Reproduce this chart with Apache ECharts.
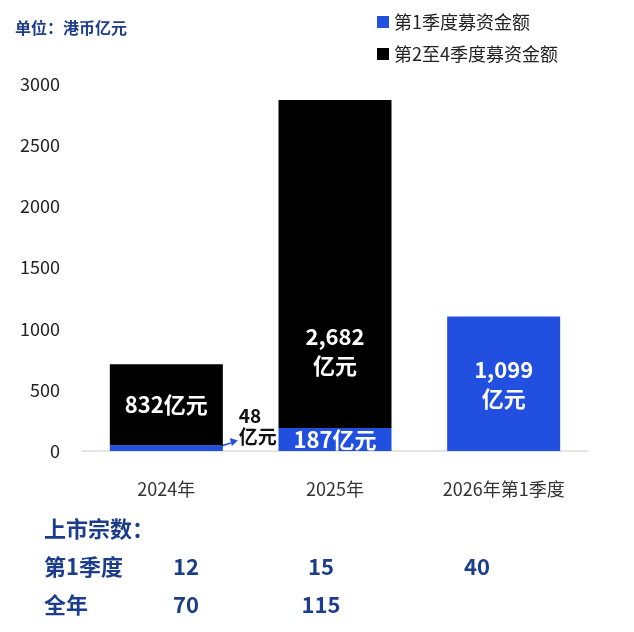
<!DOCTYPE html>
<html>
<head>
<meta charset="utf-8">
<script src="https://cdn.jsdelivr.net/npm/echarts@6/dist/echarts.min.js"></script>
<style>
  html, body { margin: 0; padding: 0; background: #fff; }
  #main { width: 634px; height: 632px; }
</style>
</head>
<body>
<div id="main"></div>
<script>
// 数据
var categories = ['2024年', '2025年', '2026年第1季度'];
var q1Values = [48, 187, 1099];          // 第1季度募资金额
var q24Values = [661, 2682, '-'];        // 第2至4季度募资金额（按图中柱高读取）
var q1Labels = ['48\n亿元', '187亿元', '1,099\n亿元'];
var q24Labels = ['832亿元', '2,682\n亿元', ''];
var yTicks = [0, 500, 1000, 1500, 2000, 2500, 3000];

// 上市宗数
var rowNames = ['第1季度', '全年'];
var q1Counts = ['12', '15', '40'];
var fullYearCounts = ['70', '115', ''];

var FONT = '"Noto Sans CJK SC", "Noto Sans", sans-serif';
var BLUE = '#2150e0';
var NAVY = '#1c3d8c';

window.onload = function () {
    var dom = document.getElementById('main');
    var myChart = echarts.init(dom);

    var option = {
        animation: false,
        textStyle: { fontFamily: FONT },
        title: {
            text: '单位：港币亿元',
            left: 10,
            top: 15,
            textStyle: { fontFamily: FONT, fontSize: 16, fontWeight: 'bold', color: NAVY }
        },
        legend: {
            orient: 'vertical',
            left: 372,
            top: 8,
            itemWidth: 12,
            itemHeight: 12,
            itemGap: 14,
            icon: 'rect',
            textStyle: { fontFamily: FONT, fontSize: 18, color: '#222' },
            data: ['第1季度募资金额', '第2至4季度募资金额']
        },
        grid: {
            left: 82,
            right: 46,
            top: 84,
            bottom: 181
        },
        xAxis: {
            type: 'category',
            data: categories,
            axisLine: { lineStyle: { color: '#dcdcdc', width: 1.5 } },
            axisTick: { show: false },
            axisLabel: { fontFamily: FONT, fontSize: 18, color: '#333', margin: 29 }
        },
        yAxis: {
            type: 'value',
            min: yTicks[0],
            max: yTicks[yTicks.length - 1],
            interval: 500,
            axisLine: { show: false },
            axisTick: { show: false },
            splitLine: { show: false },
            axisLabel: {
                fontFamily: FONT, fontSize: 18, color: '#222', margin: 22,
                formatter: function (v) { return String(v); }
            }
        },
        series: [
            {
                name: '第1季度募资金额',
                type: 'bar',
                stack: 'total',
                barWidth: 113,
                itemStyle: { color: BLUE },
                data: q1Values.map(function (v, i) {
                    var item = { value: v };
                    // 2024年的标签画在柱外（见下方 graphic）
                    if (i === 0) item.label = { show: false };
                    return item;
                }),
                label: {
                    show: true,
                    position: 'inside',
                    color: '#fff',
                    fontFamily: FONT,
                    fontSize: 22,
                    fontWeight: 'bold',
                    lineHeight: 29,
                    formatter: function (p) { return q1Labels[p.dataIndex]; }
                }
            },
            {
                name: '第2至4季度募资金额',
                type: 'bar',
                stack: 'total',
                barWidth: 113,
                itemStyle: { color: '#000' },
                data: q24Values.map(function (v, i) {
                    var item = { value: v };
                    if (i === 1) {
                        item.label = { position: 'insideBottom', distance: 48 };
                    }
                    return item;
                }),
                label: {
                    show: true,
                    position: 'inside',
                    color: '#fff',
                    fontFamily: FONT,
                    fontSize: 22,
                    fontWeight: 'bold',
                    lineHeight: 29,
                    formatter: function (p) { return q24Labels[p.dataIndex]; }
                }
            }
        ]
    };

    myChart.setOption(option, true);

    // 箭头：从2024年第1季度柱右侧指向“48亿元”
    var mid = myChart.convertToPixel({ seriesIndex: 0 }, [0, q1Values[0] / 2]);
    var rightEdge = mid[0] + 113 / 2;
    var sx = rightEdge - 10, sy = mid[1] + 0.5;
    var ex = rightEdge + 8, ey = mid[1] - 5;

    var graphics = [
        {
            type: 'line',
            shape: { x1: sx, y1: sy, x2: ex, y2: ey },
            style: { stroke: BLUE, lineWidth: 1.5 }
        },
        {
            type: 'polygon',
            shape: { points: [[ex + 7, ey - 2.5], [ex - 1, ey - 5], [ex + 1, ey + 3]] },
            style: { fill: BLUE }
        },
        {
            type: 'text',
            x: rightEdge + 16, y: mid[1] - 22,
            style: {
                text: q1Labels[0], fill: '#111', font: 'bold 19px ' + FONT,
                lineHeight: 21, textAlign: 'left', textVerticalAlign: 'middle'
            }
        },
        {
            type: 'text',
            left: 44, top: 518,
            style: { text: '上市宗数：', fill: NAVY, font: 'bold 22px ' + FONT }
        }
    ];

    var colX = [186, 321, 477];
    var rowY = [556, 594];
    [q1Counts, fullYearCounts].forEach(function (row, r) {
        graphics.push({
            type: 'text',
            left: 44, top: rowY[r],
            style: { text: rowNames[r], fill: NAVY, font: 'bold 22px ' + FONT }
        });
        row.forEach(function (t, c) {
            if (!t) return;
            graphics.push({
                type: 'text',
                x: colX[c], y: rowY[r],
                style: { text: t, fill: NAVY, font: 'bold 22px ' + FONT, textAlign: 'center' }
            });
        });
    });

    myChart.setOption({ graphic: graphics });
};
</script>
</body>
</html>
